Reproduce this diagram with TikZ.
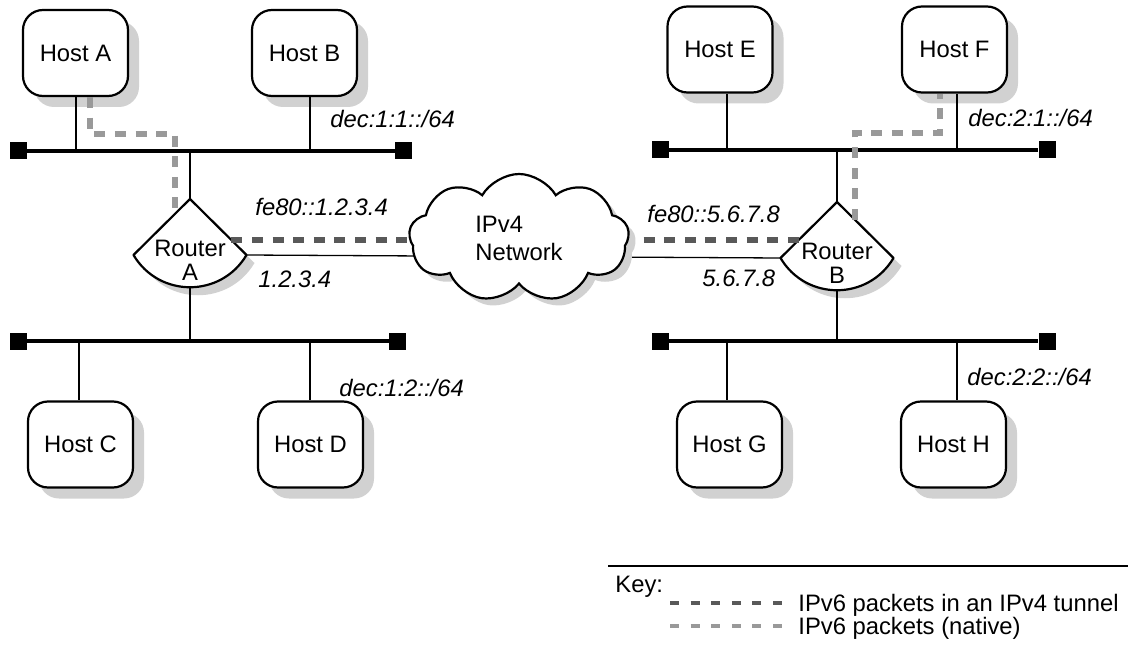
\documentclass[tikz,border=0pt]{standalone}
\usepackage{fontspec}
\setmainfont{Liberation Sans}
\usepackage{tikz}
\usetikzlibrary{shapes.symbols}
\usetikzlibrary{shadows}

\definecolor{tunnelgray}{gray}{0.35}
\definecolor{nativegray}{gray}{0.6}
\definecolor{shadowgray}{gray}{0.82}

\newcommand{\diagfont}{\fontsize{11.9}{12}\selectfont}

\tikzset{
  host/.style={draw, line width=1.1pt, rounded corners=10pt, fill=white,
    minimum width=52.5pt, minimum height=43pt,
    drop shadow={shadow xshift=5.5pt, shadow yshift=-5.5pt, fill=shadowgray, opacity=1}},
  router/.style={draw, line width=1.1pt, fill=white, line join=round},
  routertext/.style={align=center, inner sep=0pt},
  cloudnet/.style={cloud, draw, line width=1.1pt, fill=white, cloud puffs=9, cloud puff arc=120,
    aspect=1.75, minimum width=110pt, minimum height=64pt, align=left, inner sep=0pt,
    drop shadow={shadow xshift=3.5pt, shadow yshift=-3.5pt, fill=shadowgray, opacity=1}},
  term/.style={fill=black, minimum size=8.5pt, inner sep=0pt},
  bus/.style={line width=2.3pt},
  link/.style={line width=0.65pt},
  tunnel/.style={tunnelgray, line width=3pt, dash pattern=on 5.5pt off 4.8pt},
  native/.style={nativegray, line width=3pt, dash pattern=on 5.5pt off 4.8pt},
  addr/.style={font=\diagfont\itshape, inner sep=0pt, anchor=base west},
  keytext/.style={inner sep=0pt, anchor=base west},
}

\begin{document}
\begin{tikzpicture}[x=0.5pt, y=-0.5pt, font=\diagfont]
\useasboundingbox (0,0) rectangle (1128,652);

% hosts
\node[host] (hostA) at (75.5,53) {Host A};
\node[host] (hostB) at (304.5,53) {Host B};
\node[host] (hostC) at (80.5,444.5) {Host C};
\node[host] (hostD) at (310.5,444.5) {Host D};
\node[host] (hostE) at (720,49.5) {Host E};
\node[host] (hostF) at (954.5,49.5) {Host F};
\node[host] (hostG) at (729.5,444.5) {Host G};
\node[host] (hostH) at (953.5,444.5) {Host H};

% routers
\begin{scope}[shift={(190,255)}]
  \fill[shadowgray] (8,-48) -- (64.5,8) .. controls (39,51) and (-23,51) .. (-48.5,8) -- cycle;
  \draw[router] (0,-56) -- (56.5,0) .. controls (31,43) and (-31,43) .. (-56.5,0) -- cycle;
  \node[routertext] (rA) at (0,5) {Router\\A};
  \coordinate (rA-n) at (0,-56);
  \coordinate (rA-s) at (0,32);
  \coordinate (rA-e) at (56.5,0);
  \coordinate (rA-t) at (41.4,-15);
  \coordinate (rA-in) at (-15,-41.1);
\end{scope}
\begin{scope}[shift={(837,258)}]
  \fill[shadowgray] (8,-48) -- (64.5,8) .. controls (39,51) and (-23,51) .. (-48.5,8) -- cycle;
  \draw[router] (0,-56) -- (56.5,0) .. controls (31,43) and (-31,43) .. (-56.5,0) -- cycle;
  \node[routertext] (rB) at (0,5) {Router\\B};
  \coordinate (rB-n) at (0,-56);
  \coordinate (rB-s) at (0,32);
  \coordinate (rB-w) at (-56.5,0);
  \coordinate (rB-t) at (-38.3,-18);
  \coordinate (rB-in) at (18,-38.2);
\end{scope}

% IPv4 link and tunnel, under the cloud
\coordinate (netmid) at (520,240);
\draw[link] (rA-e) -- (rB-w);
\draw[tunnel] (rA-t) -- (rA-t -| netmid);
\draw[tunnel] (rB-t -| netmid) -- (rB-t);
\node[cloudnet] (net) at (519,238) {IPv4\\[2pt]Network};

% buses
\node[term] (b1w) at (18.5,151) {};
\node[term] (b1e) at (403.5,151) {};
\node[term] (b2w) at (18.5,341) {};
\node[term] (b2e) at (397.5,341) {};
\node[term] (b3w) at (660.5,150) {};
\node[term] (b3e) at (1047,150) {};
\node[term] (b4w) at (660.5,341) {};
\node[term] (b4e) at (1047,341) {};
\draw[bus] (b1w) -- (b1e);
\draw[bus] (b2w) -- (b2e);
\draw[bus] (b3w) -- (b3e);
\draw[bus] (b4w) -- (b4e);

% taps
\foreach \h/\a/\x/\y in {hostA/south/76/151, hostB/south/310/151, hostC/north/79/341, hostD/north/310/341,
                         hostE/south/727/150, hostF/south/957/150, hostG/north/727/341, hostH/north/957/341} {
  \coordinate (tap\h) at (\x,\y);
  \draw[link] (tap\h) -- (tap\h |- \h.\a);
}
\coordinate (tapA1) at (190,151);
\coordinate (tapA2) at (190,341);
\coordinate (tapB1) at (837,150);
\coordinate (tapB2) at (837,341);
\draw[link] (tapA1) -- (rA-n);
\draw[link] (rA-s) -- (tapA2);
\draw[link] (tapB1) -- (rB-n);
\draw[link] (rB-s) -- (tapB2);

% native IPv6 paths
\coordinate (nA1) at (90,134);
\coordinate (nA2) at (175,134);
\draw[native] (nA1 |- hostA.south) -- (nA1) -- (nA2) -- (nA2 |- rA-in);
\coordinate (nB1) at (855,133);
\coordinate (nB2) at (940,133);
\draw[native] (nB1 |- rB-in) -- (nB1) -- (nB2) -- (nB2 |- hostF.south);

% addresses
\node[addr] (pfx11) at (330,128) {dec:1:1::/64};
\node[addr] (llA) at (255,215) {fe80::1.2.3.4};
\node[addr] (v4A) at (258,287) {1.2.3.4};
\node[addr] (pfx12) at (339,396) {dec:1:2::/64};
\node[addr] (llB) at (647,222) {fe80::5.6.7.8};
\node[addr] (v4B) at (702,286) {5.6.7.8};
\node[addr] (pfx21) at (968,127) {dec:2:1::/64};
\node[addr] (pfx22) at (967,385) {dec:2:2::/64};

% key
\coordinate (keyw) at (608,566);
\coordinate (keye) at (1128,566);
\draw[line width=1.2pt] (keyw) -- (keye);
\node[keytext] (key) at (615,592) {Key:};
\coordinate (k1a) at (670,603);
\coordinate (k1b) at (783,603);
\coordinate (k2a) at (670,626);
\coordinate (k2b) at (783,626);
\draw[tunnelgray, line width=2.3pt, dash pattern=on 4.5pt off 5.8pt] (k1a) -- (k1b);
\draw[nativegray, line width=2.3pt, dash pattern=on 4.5pt off 5.8pt] (k2a) -- (k2b);
\node[keytext] (keytun) at (798,611) {IPv6 packets in an IPv4 tunnel};
\node[keytext] (keynat) at (798,634) {IPv6 packets (native)};
\end{tikzpicture}
\end{document}
